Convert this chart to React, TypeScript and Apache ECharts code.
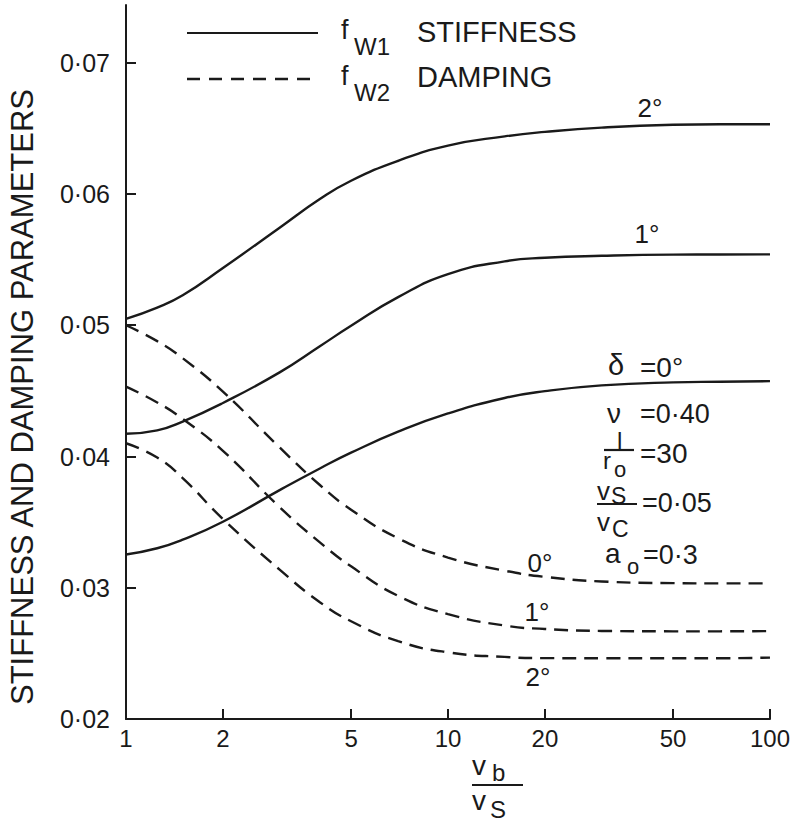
import React, { useEffect, useRef } from "react";
import * as echarts from "echarts";

// v_b / v_s (log axis)
const velocityRatio = [1, 1.25, 1.5, 2, 3, 4, 5, 7, 10, 15, 20, 30, 50, 70, 100];

// f_W1 stiffness, for delta = 0°, 1°, 2°
const stiffness0 = [0.03253, 0.03301, 0.03366, 0.03503, 0.03744, 0.03909, 0.04029, 0.04189, 0.04328, 0.04446, 0.04498, 0.04542, 0.04565, 0.0457, 0.04574];
const stiffness1 = [0.04173, 0.04199, 0.04266, 0.04408, 0.04641, 0.0484, 0.04996, 0.05214, 0.0539, 0.05487, 0.05514, 0.05529, 0.05538, 0.05539, 0.0554];
const stiffness2 = [0.05049, 0.05135, 0.05228, 0.05436, 0.05743, 0.05961, 0.06101, 0.06253, 0.06369, 0.06439, 0.06473, 0.06506, 0.06528, 0.06532, 0.06532];

// f_W2 damping, for delta = 0°, 1°, 2°
const damping0 = [0.0500, 0.04879, 0.04749, 0.04494, 0.04069, 0.03783, 0.03595, 0.03377, 0.0323, 0.0313, 0.03083, 0.03048, 0.03035, 0.03033, 0.03033];
const damping1 = [0.04533, 0.04412, 0.04286, 0.04043, 0.03614, 0.03346, 0.03163, 0.02938, 0.02799, 0.02712, 0.02686, 0.02671, 0.02668, 0.02668, 0.0267];
const damping2 = [0.04101, 0.03992, 0.03835, 0.03524, 0.03138, 0.0289, 0.02745, 0.02593, 0.02508, 0.02473, 0.02464, 0.02463, 0.02463, 0.02463, 0.02468];

const xTicks = [1, 2, 5, 10, 20, 50, 100];
const yTicks = [0.02, 0.03, 0.04, 0.05, 0.06, 0.07];
const yTickLabels = ["0·02", "0·03", "0·04", "0·05", "0·06", "0·07"];

const INK = "#1a1a1a";
const FONT = "Liberation Sans, Arial, sans-serif";
const DASH = [14, 8];

function pairs(ys: number[]) {
  return velocityRatio.map((x, i) => [x, ys[i]]);
}

function txt(text: string, x: number, y: number, size: number, align = "left", extra: any = {}) {
  return {
    type: "text",
    x,
    y,
    silent: true,
    ...extra,
    style: {
      text,
      fill: INK,
      fontSize: size,
      fontFamily: FONT,
      align,
      textAlign: align,
      verticalAlign: "middle",
      textVerticalAlign: "middle",
    },
  };
}

function ln(x1: number, y1: number, x2: number, y2: number, dash?: number[]) {
  return {
    type: "line",
    silent: true,
    shape: { x1, y1, x2, y2 },
    style: { stroke: INK, lineWidth: dash ? 2.4 : 2.2, lineDash: dash },
  };
}

function lineSeries(name: string, ys: number[], dashed: boolean) {
  return {
    name,
    type: "line",
    data: pairs(ys),
    smooth: 0.5,
    showSymbol: false,
    symbol: "none",
    silent: true,
    lineStyle: { color: INK, width: 2.4, type: dashed ? DASH : "solid" },
  };
}

export default function App() {
  const ref = useRef<HTMLDivElement>(null);
  useEffect(() => {
    const chart = echarts.init(ref.current!, null, { renderer: "svg" });
    chart.setOption({
      animation: false,
      backgroundColor: "#ffffff",
      grid: { left: 126, right: 14, top: 5, bottom: 106, containLabel: false },
      xAxis: {
        type: "log",
        logBase: 10,
        min: 1,
        max: 100,
        axisLine: { show: true, lineStyle: { color: INK, width: 2 } },
        axisTick: { show: true, inside: true, length: 10, lineStyle: { color: INK, width: 2 }, customValues: xTicks },
        axisLabel: {
          customValues: xTicks,
          color: INK,
          fontSize: 24,
          fontFamily: FONT,
          margin: 7,
          formatter: (v: number) => String(Math.round(v)),
        },
        splitLine: { show: false },
        minorTick: { show: false },
      },
      yAxis: {
        type: "value",
        min: 0.02,
        max: 0.0744,
        axisLine: { show: true, lineStyle: { color: INK, width: 2 } },
        axisTick: { show: true, inside: true, length: 10, lineStyle: { color: INK, width: 2 }, customValues: yTicks },
        axisLabel: {
          customValues: yTicks,
          color: INK,
          fontSize: 25,
          fontFamily: FONT,
          margin: 16,
          formatter: (v: number) => {
            const i = yTicks.findIndex((t) => Math.abs(t - v) < 1e-6);
            return i >= 0 ? yTickLabels[i] : "";
          },
        },
        splitLine: { show: false },
      },
      series: [
        lineSeries("fW1 δ=0°", stiffness0, false),
        lineSeries("fW1 δ=1°", stiffness1, false),
        lineSeries("fW1 δ=2°", stiffness2, false),
        lineSeries("fW2 δ=0°", damping0, true),
        lineSeries("fW2 δ=1°", damping1, true),
        lineSeries("fW2 δ=2°", damping2, true),
      ],
      graphic: [
        // y axis title
        txt("STIFFNESS AND DAMPING PARAMETERS", 22, 397, 31, "center", { rotation: Math.PI / 2 }),
        // legend
        ln(187, 33, 318, 33),
        txt("f", 341, 30, 27),
        txt("W1", 354, 46, 24),
        txt("STIFFNESS", 417, 32, 29),
        ln(187, 79, 318, 79, [13, 9]),
        txt("f", 341, 76, 27),
        txt("W2", 354, 92, 24),
        txt("DAMPING", 417, 77, 29),
        // stiffness curve labels
        txt("2°", 650, 108, 26, "center"),
        txt("1°", 647, 234, 26, "center"),
        txt("δ", 608, 365, 29),
        txt("=0°", 640, 367, 28),
        // parameters
        txt("ν", 607, 413, 28),
        txt("=0·40", 640, 414, 27),
        txt("l", 617, 440, 24),
        ln(604, 450, 634, 450),
        txt("r", 603, 460, 24),
        txt("o", 614, 469, 22),
        txt("=30", 640, 453, 28),
        txt("v", 597, 491, 26),
        txt("S", 611, 496, 23),
        ln(597, 504, 637, 504),
        txt("v", 597, 522, 26),
        txt("C", 612, 529, 23),
        txt("=0·05", 642, 503, 27),
        txt("a", 605, 553, 28),
        txt("o", 627, 566, 22),
        txt("=0·3", 643, 555, 27),
        // damping curve labels
        txt("0°", 540, 563, 26, "center"),
        txt("1°", 537, 612, 26, "center"),
        txt("2°", 538, 677, 26, "center"),
        // x axis title
        txt("v", 472, 765, 28),
        txt("b", 492, 772, 24),
        ln(472, 785, 523, 785),
        txt("v", 472, 800, 28),
        txt("S", 490, 809, 24),
      ],
    });
    return () => chart.dispose();
  }, []);
  return (
    <div
      ref={ref}
      style={{ position: "absolute", left: 0, top: 0, width: 793, height: 825, background: "#fff" }}
    />
  );
}
